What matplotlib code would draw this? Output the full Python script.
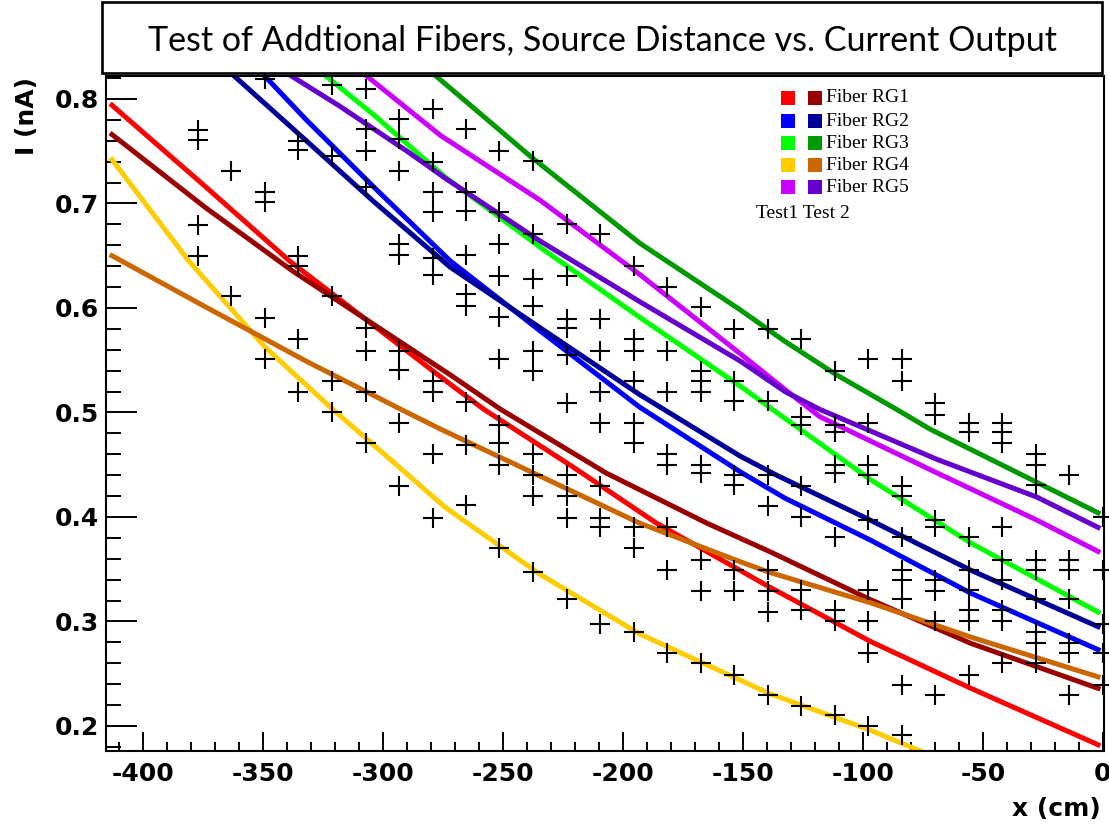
import matplotlib

matplotlib.use("Agg")
import matplotlib.pyplot as plt
from matplotlib.patches import Rectangle
from matplotlib.ticker import MultipleLocator

W, H = 1109, 825

# measured points (crosses), one list of currents per source position
col_x = [-377.2, -363.2, -349.3, -335.3, -321.3, -307.3, -293.4, -279.4,
         -265.4, -251.5, -237.5, -223.5, -209.6, -195.6, -181.6, -167.6,
         -153.7, -139.7, -125.7, -111.8, -97.8, -83.8, -69.9, -55.9,
         -41.9, -27.9, -14.0, 0.0]
col_y = [
    [0.770, 0.761, 0.679, 0.650],
    [0.731, 0.611],
    [0.819, 0.711, 0.701, 0.590, 0.551],
    [0.760, 0.751, 0.650, 0.640, 0.570, 0.520],
    [0.813, 0.745, 0.611, 0.530, 0.500],
    [0.810, 0.771, 0.750, 0.716, 0.581, 0.559, 0.520, 0.471],
    [0.781, 0.762, 0.731, 0.661, 0.651, 0.559, 0.541, 0.490, 0.430],
    [0.790, 0.740, 0.711, 0.692, 0.648, 0.632, 0.530, 0.520, 0.460, 0.399],
    [0.771, 0.711, 0.693, 0.651, 0.613, 0.602, 0.510, 0.469, 0.411],
    [0.750, 0.692, 0.661, 0.631, 0.591, 0.551, 0.488, 0.471, 0.450, 0.370],
    [0.741, 0.671, 0.628, 0.602, 0.559, 0.540, 0.460, 0.440, 0.420, 0.347],
    [0.680, 0.631, 0.589, 0.581, 0.555, 0.509, 0.440, 0.420, 0.399, 0.321],
    [0.671, 0.589, 0.559, 0.520, 0.490, 0.430, 0.399, 0.390, 0.298],
    [0.640, 0.570, 0.559, 0.530, 0.490, 0.471, 0.390, 0.370, 0.290],
    [0.620, 0.559, 0.520, 0.460, 0.450, 0.390, 0.349, 0.270],
    [0.601, 0.540, 0.530, 0.520, 0.450, 0.442, 0.359, 0.329, 0.260],
    [0.580, 0.530, 0.511, 0.440, 0.431, 0.349, 0.329, 0.249],
    [0.580, 0.511, 0.440, 0.410, 0.349, 0.329, 0.309, 0.230],
    [0.570, 0.496, 0.488, 0.430, 0.400, 0.330, 0.311, 0.219],
    [0.540, 0.488, 0.481, 0.450, 0.442, 0.381, 0.311, 0.300, 0.210],
    [0.551, 0.490, 0.450, 0.440, 0.397, 0.330, 0.300, 0.270, 0.200],
    [0.551, 0.530, 0.430, 0.420, 0.381, 0.349, 0.340, 0.321, 0.239, 0.191],
    [0.509, 0.498, 0.397, 0.390, 0.340, 0.329, 0.300, 0.230],
    [0.490, 0.481, 0.381, 0.349, 0.330, 0.311, 0.300, 0.249],
    [0.490, 0.481, 0.471, 0.390, 0.359, 0.340, 0.311, 0.300, 0.260],
    [0.460, 0.450, 0.431, 0.359, 0.349, 0.321, 0.290, 0.279, 0.260],
    [0.440, 0.359, 0.349, 0.321, 0.279, 0.270, 0.230],
    [0.400, 0.349, 0.298, 0.270, 0.239],
]

# fitted curves, test 1 and test 2 per fiber
rg1_t1_x = [-413, -374, -339, -272, -258, -221, -186, -139, -97, -55, -2]
rg1_t1_y = [0.794, 0.716, 0.645, 0.527, 0.503, 0.448, 0.394, 0.333, 0.281, 0.236, 0.182]
rg1_t2_x = [-413, -374, -337.5, -272, -251, -207, -165, -139, -97, -55, -2]
rg1_t2_y = [0.766, 0.696, 0.635, 0.536, 0.503, 0.442, 0.394, 0.367, 0.321, 0.279, 0.236]

rg2_t1_x = [-351, -332, -304, -272, -234.5, -193, -151, -132.5, -97, -55, -2]
rg2_t1_y = [0.826, 0.780, 0.716, 0.645, 0.578, 0.505, 0.443, 0.418, 0.378, 0.327, 0.273]
rg2_t2_x = [-364, -332, -304, -272, -234.5, -193, -151, -136, -97, -55, -2]
rg2_t2_y = [0.826, 0.760, 0.702, 0.639, 0.581, 0.517, 0.458, 0.440, 0.397, 0.349, 0.295]

rg3_t1_x = [-326, -304, -274, -234.5, -193, -151, -139, -97, -55, -2]
rg3_t1_y = [0.826, 0.785, 0.725, 0.658, 0.591, 0.525, 0.505, 0.436, 0.375, 0.309]
rg3_t2_x = [-280, -238, -193, -151, -132.5, -111, -86, -72, -30, -2]
rg3_t2_y = [0.826, 0.744, 0.662, 0.598, 0.568, 0.536, 0.503, 0.484, 0.436, 0.404]

rg4_t1_x = [-413, -381, -349, -321, -274, -234.5, -193, -139, -97, -75]
rg4_t1_y = [0.742, 0.645, 0.562, 0.503, 0.409, 0.345, 0.288, 0.231, 0.196, 0.175]
rg4_t2_x = [-413, -374, -332, -290, -276, -234.5, -193, -151, -139, -97, -55, -2]
rg4_t2_y = [0.650, 0.601, 0.549, 0.500, 0.484, 0.439, 0.394, 0.357, 0.347, 0.318, 0.285, 0.247]

rg5_t1_x = [-309, -276, -234.5, -193, -151, -132.5, -118, -69, -27.5, -2]
rg5_t1_y = [0.826, 0.765, 0.703, 0.632, 0.556, 0.522, 0.496, 0.442, 0.397, 0.367]
rg5_t2_x = [-341, -318, -290, -274, -234.5, -193, -151, -132.5, -118, -69, -27.5, -2]
rg5_t2_y = [0.826, 0.793, 0.750, 0.724, 0.664, 0.606, 0.549, 0.520, 0.503, 0.455, 0.419, 0.390]

fibers = ["Fiber RG1", "Fiber RG2", "Fiber RG3", "Fiber RG4", "Fiber RG5"]
test1_colors = ["#ff0000", "#0000ff", "#00ff00", "#ffcc00", "#cc00ff"]
test2_colors = ["#990000", "#000099", "#009900", "#cc6600", "#6600cc"]

test1_curves = [(rg1_t1_x, rg1_t1_y), (rg2_t1_x, rg2_t1_y), (rg3_t1_x, rg3_t1_y),
                (rg4_t1_x, rg4_t1_y), (rg5_t1_x, rg5_t1_y)]
test2_curves = [(rg1_t2_x, rg1_t2_y), (rg2_t2_x, rg2_t2_y), (rg3_t2_x, rg3_t2_y),
                (rg4_t2_x, rg4_t2_y), (rg5_t2_x, rg5_t2_y)]


def fx(px):
    return px / W


def fy(py):
    return 1 - py / H


fig = plt.figure(figsize=(W / 100, H / 100), dpi=100)
ax = fig.add_axes([fx(106), fy(751), (1104 - 106) / W, (751 - 76) / H])

for (x, y), c in zip(test1_curves, test1_colors):
    ax.plot(x, y, color=c, lw=3.6, solid_joinstyle="round")
for (x, y), c in zip(test2_curves, test2_colors):
    ax.plot(x, y, color=c, lw=3.6, solid_joinstyle="round")

for x, ys in zip(col_x, col_y):
    ax.plot([x] * len(ys), ys, ls="none", marker="+", ms=15, mew=1.5,
            color="black", clip_on=False, zorder=4)

ax.set_xlim(-415.5, 0.5)
ax.set_ylim(0.176, 0.822)
ax.xaxis.set_major_locator(MultipleLocator(50))
ax.xaxis.set_minor_locator(MultipleLocator(10))
ax.yaxis.set_major_locator(MultipleLocator(0.1))
ax.yaxis.set_minor_locator(MultipleLocator(0.02))
ax.set_xticks(range(-400, 1, 50))
ax.set_xticklabels([str(v) for v in range(-400, 1, 50)])
ax.set_yticks([0.2, 0.3, 0.4, 0.5, 0.6, 0.7, 0.8])
ax.set_yticklabels(["0.2", "0.3", "0.4", "0.5", "0.6", "0.7", "0.8"])

ax.tick_params(axis="both", which="both", direction="in", width=1.4,
               top=False, right=False, labelsize=18)
ax.tick_params(axis="x", which="major", length=13.7, pad=8)
ax.tick_params(axis="x", which="minor", length=6.5)
ax.tick_params(axis="y", which="major", length=22, pad=5)
ax.tick_params(axis="y", which="minor", length=11)
for lab in ax.get_xticklabels() + ax.get_yticklabels():
    lab.set_fontweight("bold")
    lab.set_family("DejaVu Sans")
for sp in ax.spines.values():
    sp.set_linewidth(1.5)

fig.text(fx(1101), fy(797), "x (cm)", ha="right", va="top",
         fontsize=18, fontweight="bold")
fig.text(fx(27), fy(77), "I (nA)", ha="center", va="top", rotation=90,
         fontsize=18, fontweight="bold")

# title box
fig.patches.append(Rectangle((fx(102), fy(73)), (1102 - 102) / W, 71 / H,
                             transform=fig.transFigure, fill=True,
                             facecolor="white", edgecolor="black", lw=1.9))
fig.text(fx(602), fy(41), "Test of Addtional Fibers, Source Distance vs. Current Output",
         ha="center", va="center", fontsize=24.5, family="Lato")

# legend, drawn by hand
row_y = [98, 121, 143, 165, 187]
sq = 14
for ry, name, c1, c2 in zip(row_y, fibers, test1_colors, test2_colors):
    for cx, c in ((781, c1), (808, c2)):
        fig.patches.append(Rectangle((fx(cx), fy(ry + sq / 2)), sq / W, sq / H,
                                     transform=fig.transFigure, facecolor=c,
                                     edgecolor="none"))
    fig.text(fx(826), fy(ry), name, ha="left", va="center", fontsize=14,
             family="Liberation Serif")
fig.text(fx(756), fy(213), "Test1 Test 2", ha="left", va="center", fontsize=14,
         family="Liberation Serif")

fig.savefig("out.png", dpi=100)
